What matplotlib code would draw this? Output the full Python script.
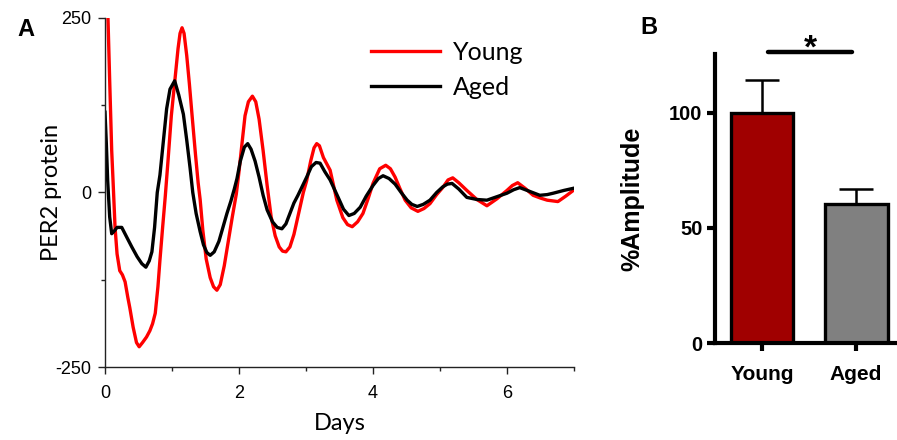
import numpy as np
import matplotlib.pyplot as plt
from matplotlib.ticker import MultipleLocator

plt.rcParams["axes.unicode_minus"] = False

# Panel A: PER2 bioluminescence traces
young_days = [0.04, 0.07, 0.10, 0.12, 0.15, 0.18, 0.22, 0.26, 0.30, 0.34, 0.37, 0.42,
              0.47, 0.51, 0.56, 0.62, 0.67, 0.71, 0.75, 0.79, 0.82, 0.86, 0.90, 0.94,
              0.99, 1.04, 1.09, 1.12, 1.15, 1.18, 1.22, 1.26, 1.30, 1.35, 1.39, 1.42,
              1.46, 1.51, 1.57, 1.62, 1.67, 1.72, 1.78, 1.84, 1.90, 1.96, 2.00, 2.05,
              2.09, 2.14, 2.20, 2.25, 2.30, 2.36, 2.42, 2.48, 2.54, 2.60, 2.65, 2.70,
              2.76, 2.82, 2.89, 2.96, 3.01, 3.07, 3.12, 3.16, 3.20, 3.26, 3.36, 3.46,
              3.55, 3.62, 3.69, 3.77, 3.85, 3.93, 4.00, 4.10, 4.19, 4.26, 4.33, 4.40,
              4.48, 4.57, 4.67, 4.76, 4.85, 4.95, 5.04, 5.12, 5.19, 5.28, 5.40, 5.55,
              5.70, 5.85, 6.00, 6.08, 6.16, 6.27, 6.39, 6.50, 6.60, 6.76, 6.88, 6.99]
young_per2 = [265, 160, 60, 17, -50, -88, -112, -118, -128, -150, -165, -193,
              -215, -221, -215, -207, -198, -188, -173, -135, -97, -50, -5, 45,
              110, 158, 206, 228, 236, 228, 196, 155, 110, 55, 14, -10,
              -54, -95, -122, -135, -140, -132, -105, -70, -35, -2, 30, 75,
              110, 130, 138, 130, 105, 60, 10, -35, -62, -78, -84, -85,
              -78, -60, -30, 0, 17, 45, 64, 70, 67, 50, 32, -11,
              -36, -46, -49, -42, -30, -8, 13, 34, 39, 34, 22, 6,
              -11, -22, -27, -23, -16, -3, 7, 18, 21, 14, 3, -10,
              -19, -9, 3, 10, 14, 6, -4, -8, -11, -13, -5, 3]

aged_days = [0.00, 0.02, 0.04, 0.07, 0.10, 0.14, 0.18, 0.25, 0.33, 0.40, 0.48, 0.55,
             0.61, 0.66, 0.70, 0.74, 0.78, 0.82, 0.86, 0.92, 0.97, 1.04, 1.10, 1.17,
             1.22, 1.27, 1.31, 1.36, 1.42, 1.47, 1.52, 1.57, 1.63, 1.70, 1.76, 1.82,
             1.88, 1.93, 1.97, 2.02, 2.08, 2.13, 2.18, 2.24, 2.30, 2.36, 2.42, 2.50,
             2.57, 2.64, 2.70, 2.76, 2.82, 2.88, 2.95, 3.01, 3.08, 3.15, 3.21, 3.28,
             3.36, 3.48, 3.56, 3.64, 3.72, 3.81, 3.90, 4.00, 4.08, 4.15, 4.24, 4.33,
             4.42, 4.51, 4.58, 4.66, 4.75, 4.85, 4.95, 5.04, 5.11, 5.18, 5.28, 5.40,
             5.55, 5.70, 5.85, 6.00, 6.10, 6.19, 6.30, 6.49, 6.60, 6.69, 6.85, 6.99]
aged_per2 = [115, 70, 17, -35, -59, -55, -50, -50, -65, -78, -92, -102,
             -107, -98, -85, -50, 0, 25, 63, 120, 148, 160, 140, 112,
             75, 35, 0, -30, -56, -75, -86, -90, -85, -70, -50, -30,
             -12, 5, 20, 45, 65, 70, 62, 45, 22, -4, -25, -42,
             -50, -52, -45, -30, -15, -4, 10, 22, 37, 43, 42, 30,
             18, -7, -24, -33, -30, -21, -5, 10, 20, 24, 20, 12,
             0, -11, -17, -20, -17, -11, 0, 8, 12, 13, 5, -7,
             -10, -11, -6, -1, 4, 7, 3, -4, -3, -1, 3, 6]

# Panel B: relative amplitude
groups = ["Young", "Aged"]
amplitude = [100, 60.5]
amplitude_sem = [14.5, 6.5]
bar_colors = ["#a00000", "#808080"]

fig = plt.figure(figsize=(8.97, 4.40), dpi=100)

# ---- Panel A ----
axA = fig.add_axes([105 / 897, 1 - 367 / 440, (574 - 105) / 897, (367 - 18) / 440])
axA.plot(young_days, young_per2, color="#ff0000", lw=2.4, label="Young")
axA.plot(aged_days, aged_per2, color="black", lw=2.4, label="Aged")
axA.set_xlim(0, 7)
axA.set_ylim(-250, 250)
axA.set_xticks([0, 2, 4, 6])
axA.xaxis.set_minor_locator(MultipleLocator(1))
axA.set_yticks([-250, 0, 250])
axA.yaxis.set_minor_locator(MultipleLocator(125))
for s in ["top", "right"]:
    axA.spines[s].set_visible(False)
for s in ["left", "bottom"]:
    axA.spines[s].set_color("#222222")
    axA.spines[s].set_linewidth(1.0)
axA.tick_params(which="major", length=5, width=1, color="#222222")
axA.tick_params(which="minor", length=3, width=1, color="#222222")
axA.tick_params(axis="x", which="major", pad=8)
axA.tick_params(axis="y", which="major", pad=5)
for lab in axA.get_xticklabels() + axA.get_yticklabels():
    lab.set_fontfamily("Liberation Sans")
    lab.set_fontsize(13)
axA.set_xlabel("Days", fontfamily="Lato", fontsize=17, labelpad=8)
axA.set_ylabel("PER2 protein", fontfamily="Lato", fontsize=17, labelpad=-5)
leg = axA.legend(loc="upper left", bbox_to_anchor=(0.52, 1.0), frameon=False,
                 prop={"family": "Lato", "size": 18}, handlelength=2.75,
                 handletextpad=0.5, labelspacing=0.5)
fig.text(17 / 897, 1 - 29 / 440, "A", fontfamily="Liberation Sans", fontweight="bold",
         fontsize=17, va="center", ha="left")

# ---- Panel B ----
axB = fig.add_axes([715 / 897, 1 - 343 / 440, (897 - 715) / 897, (343 - 54) / 440])
x = np.arange(len(groups))
axB.bar(x, amplitude, width=0.67, color=bar_colors, edgecolor="black", linewidth=2.4,
        zorder=2)
axB.errorbar(x, amplitude, yerr=[[0, 0], amplitude_sem], fmt="none", ecolor="black",
             elinewidth=1.8, capsize=12, capthick=1.8, zorder=1)
axB.set_xlim(-0.5, 1.436)
axB.set_ylim(0, 125.6)
axB.set_yticks([0, 50, 100])
axB.set_xticks(x)
axB.set_xticklabels(groups)
for s in ["top", "right"]:
    axB.spines[s].set_visible(False)
for s in ["left", "bottom"]:
    axB.spines[s].set_linewidth(3.0)
axB.tick_params(length=6, width=3)
axB.tick_params(axis="y", pad=3)
axB.tick_params(axis="x", pad=10)
for lab in axB.get_yticklabels():
    lab.set_fontfamily("Liberation Sans")
    lab.set_fontweight("bold")
    lab.set_fontsize(14.5)
for lab in axB.get_xticklabels():
    lab.set_fontfamily("Liberation Sans")
    lab.set_fontweight("bold")
    lab.set_fontsize(15)
axB.set_ylabel("%Amplitude", fontfamily="Liberation Sans", fontweight="bold",
               fontsize=18, labelpad=18)
axB.plot([0.06, 0.96], [126.5, 126.5], color="black", lw=3.2, clip_on=False,
         solid_capstyle="round")
axB.text(0.51, 124, "*", ha="center", va="baseline", fontsize=24, fontweight="bold",
         fontfamily="Liberation Sans")
fig.text(640 / 897, 1 - 27 / 440, "B", fontfamily="Liberation Sans", fontweight="bold",
         fontsize=17, va="center", ha="left")

fig.savefig("out.png", dpi=100)
